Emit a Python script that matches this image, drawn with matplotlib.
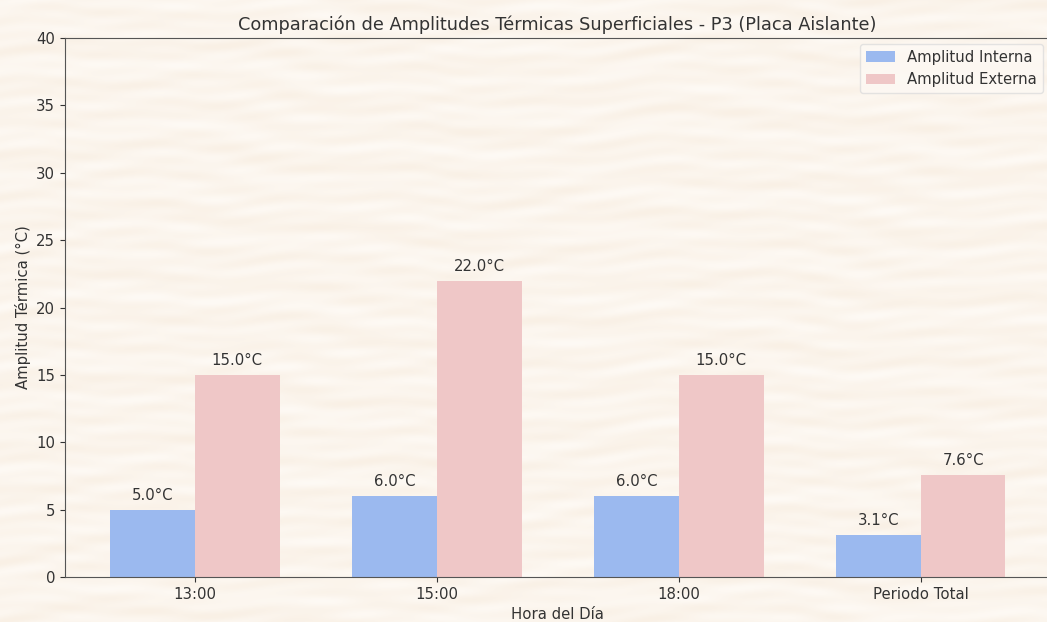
import numpy as np
import matplotlib.pyplot as plt

horas = ['13:00', '15:00', '18:00', 'Periodo Total']
amp_interna = [5.0, 6.0, 6.0, 3.1]
amp_externa = [15.0, 22.0, 15.0, 7.6]

W, H = 1047, 622
fs = 10.7
fig = plt.figure(figsize=(W / 100, H / 100), dpi=100)
fig.patch.set_facecolor('#fbf4eb')

# papel de fondo con vetas onduladas
yy, xx = np.mgrid[0:H, 0:W].astype(float)
v = (np.sin(yy * 0.19 + 2.5 * np.sin(xx * 0.011) + 1.3 * np.sin(xx * 0.027 + yy * 0.02))
     + 0.7 * np.sin(yy * 0.43 + 1.8 * np.sin(xx * 0.019 + 1.0) + 0.9 * np.sin(xx * 0.05))
     + 0.5 * np.sin(xx * 0.07 + yy * 0.31)
     + 0.4 * np.sin(yy * 0.11 - xx * 0.008 + 2.0 * np.sin(xx * 0.006)))
v = (v - v.min()) / (v.max() - v.min())
c0 = np.array([249, 240, 229]) / 255
c1 = np.array([254, 250, 245]) / 255
img = c0 + (c1 - c0) * v[..., None]
bg = fig.add_axes([0, 0, 1, 1], zorder=-1)
bg.imshow(img, aspect='auto', interpolation='bilinear')
bg.axis('off')

ax = fig.add_axes([65 / W, 45 / H, 984 / W, 539 / H])
ax.patch.set_alpha(0)

x = np.arange(len(horas))
w = 0.35
b1 = ax.bar(x - w / 2, amp_interna, w, color='#9bb9ef', label='Amplitud Interna')
b2 = ax.bar(x + w / 2, amp_externa, w, color='#efc7c7', label='Amplitud Externa')

for bars, vals in ((b1, amp_interna), (b2, amp_externa)):
    for bar, val in zip(bars, vals):
        ax.text(bar.get_x() + bar.get_width() / 2, val + 0.5, f'{val:.1f}°C',
                ha='center', va='bottom', fontsize=fs, color='#333333')

ax.set_xlim(-0.537, 3.53)
ax.set_ylim(0, 40)
ax.set_xticks(x)
ax.set_xticklabels(horas)
ax.tick_params(colors='#333333', labelsize=fs)
for s in ('left', 'bottom', 'top'):
    ax.spines[s].set_color('#555555')
ax.spines['right'].set_visible(False)

ax.set_title('Comparación de Amplitudes Térmicas Superficiales - P3 (Placa Aislante)',
             fontsize=12.8, color='#333333')
ax.set_xlabel('Hora del Día', fontsize=fs, color='#333333')
ax.set_ylabel('Amplitud Térmica (°C)', fontsize=fs, color='#333333')
ax.legend(loc='upper right', fontsize=fs, facecolor='#fdf9f4', edgecolor='#dddddd',
          labelcolor='#333333', borderaxespad=0.4)

fig.savefig('out.png', dpi=100)
